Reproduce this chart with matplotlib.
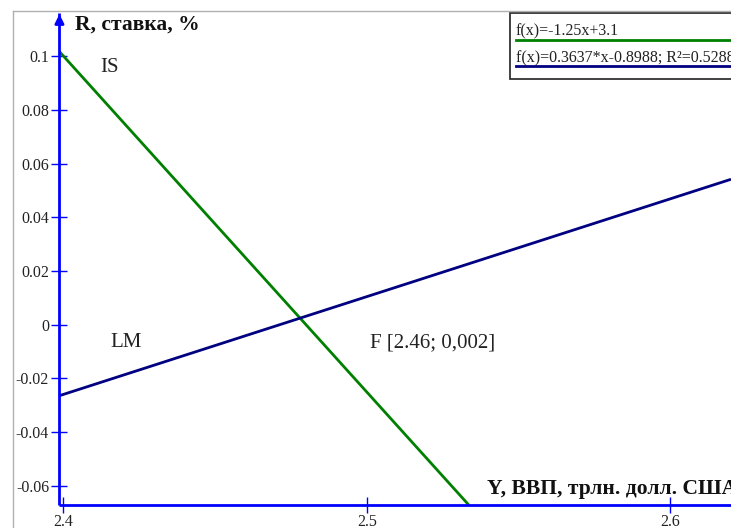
import numpy as np
import matplotlib.pyplot as plt
from matplotlib.patches import Rectangle
from matplotlib.lines import Line2D

plt.rcParams['font.family'] = ['Liberation Serif', 'DejaVu Serif']

# IS / LM lines: f(x) = a*x + b
is_coef = (-1.25, 3.1)
lm_coef = (0.3637, -0.8988)
legend_labels = ['f(x)=-1.25x+3.1', 'f(x)=0.3637*x-0.8988; R²=0.5288']

x_ticks = [2.4, 2.5, 2.6]
x_ticklabels = ['2.4', '2.5', '2.6']
y_ticks = [0.1, 0.08, 0.06, 0.04, 0.02, 0, -0.02, -0.04, -0.06]
y_ticklabels = ['0.1', '0.08', '0.06', '0.04', '0.02', '0', '-0.02', '-0.04', '-0.06']

eq_point = (2.46, 0.002)
eq_label = 'F [2.46; 0,002]'

W, H = 731, 528
fig = plt.figure(figsize=(W / 100, H / 100), dpi=100)
ax = fig.add_axes([0, 0, 1, 1])

# view window
x_min, x_max = 2.3791, 2.6201
y_min, y_max = -0.07563, 0.12084
ax.set_xlim(x_min, x_max)
ax.set_ylim(y_min, y_max)

# where the two axes cross
x_orig = 2.3987
y_orig = -0.06707
y_top = 0.1161

def fpx(x, y):
    return x / W, 1 - y / H

# outer grey frame
fig.add_artist(Line2D([fpx(12.5, 0)[0], 1], [fpx(0, 10.5)[1]] * 2, color='#b0b0b0', lw=1))
fig.add_artist(Line2D([fpx(12.5, 0)[0]] * 2, [0, fpx(0, 10.5)[1]], color='#b0b0b0', lw=1))

axis_blue = '#0000ff'
for s in ['top', 'right']:
    ax.spines[s].set_visible(False)
ax.spines['left'].set_position(('data', x_orig))
ax.spines['bottom'].set_position(('data', y_orig))
ax.spines['left'].set_bounds(y_orig, y_top)
ax.spines['bottom'].set_bounds(x_orig, x_max)
for s in ['left', 'bottom']:
    ax.spines[s].set_color(axis_blue)
    ax.spines[s].set_linewidth(2)
    ax.spines[s].set_capstyle('butt')

ax.annotate('', xy=(x_orig, y_top + 0.0005), xytext=(x_orig, y_top - 0.004),
            arrowprops=dict(arrowstyle='-|>', color=axis_blue, lw=2, mutation_scale=13))

ax.set_xticks(x_ticks)
ax.set_xticklabels(x_ticklabels)
ax.set_yticks(y_ticks)
ax.set_yticklabels(y_ticklabels)
ax.tick_params(direction='inout', length=11, width=1, color=axis_blue,
               labelsize=11.5, labelcolor='#222222')
ax.tick_params(axis='y', pad=2)
ax.tick_params(axis='x', pad=1)

# IS: from the y axis down to the x axis
a, b = is_coef
x_is = np.array([x_orig, (y_orig - b) / a])
ax.plot(x_is, a * x_is + b, color='#008000', lw=2, solid_capstyle='butt')

# LM: from the y axis to the right edge
a, b = lm_coef
x_lm = np.array([x_orig, x_max])
ax.plot(x_lm, a * x_lm + b, color='#000080', lw=2, solid_capstyle='butt')

txt = dict(fontsize=15, color='#222222', va='baseline')
fig.text(*fpx(100, 72), 'IS', **txt)
fig.text(*fpx(110, 347), 'LM', **txt)
fig.text(*fpx(370, 347), eq_label, **txt)

fig.text(*fpx(75, 30), 'R, ставка, %', fontsize=15.5, fontweight='bold',
         color='#111111', va='baseline')
fig.text(*fpx(487, 494), 'Y, ВВП, трлн. долл. США', fontsize=15.5, fontweight='bold',
         color='#111111', va='baseline')

# legend box
x0, y0 = fpx(510, 79)
x1, y1 = fpx(745, 13)
fig.add_artist(Rectangle((x0, y0), x1 - x0, y1 - y0, transform=fig.transFigure,
                         fill=True, facecolor='white', edgecolor='#333333', lw=1.3))
fig.text(*fpx(516, 35), legend_labels[0], fontsize=11.5, color='#222222', va='baseline')
fig.add_artist(Line2D([fpx(516, 0)[0], 1], [fpx(0, 39.5)[1]] * 2, color='#008000', lw=2))
fig.text(*fpx(516, 62), legend_labels[1], fontsize=11.5, color='#222222', va='baseline')
fig.add_artist(Line2D([fpx(516, 0)[0], 1], [fpx(0, 66)[1]] * 2, color='#000080', lw=2))

fig.savefig('out.png', dpi=100)
